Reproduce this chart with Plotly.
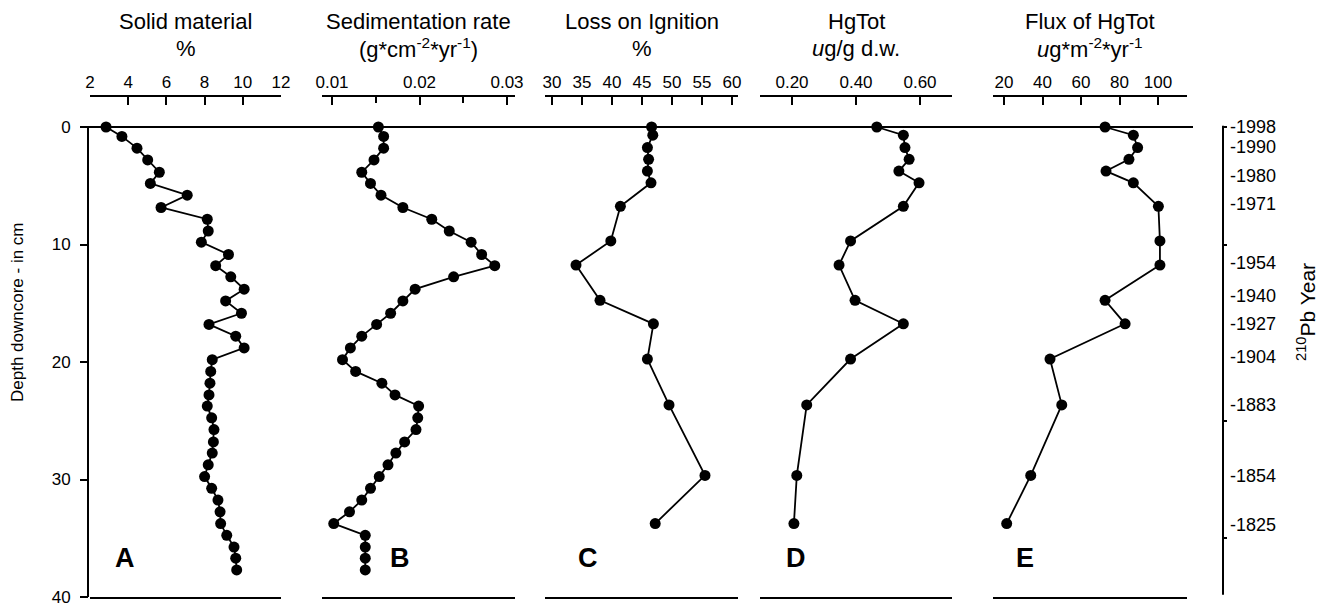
import plotly.graph_objects as go

# ---------------- data ----------------
depth_ab = [0.0, 0.8, 1.8, 2.8, 3.85, 4.8, 5.8, 6.85, 7.85, 8.85, 9.8, 10.85, 11.8, 12.75,
            13.8, 14.8, 15.85, 16.8, 17.8, 18.8, 19.8, 20.8, 21.8, 22.8, 23.75, 24.75, 25.75,
            26.8, 27.75, 28.75, 29.75, 30.75, 31.75, 32.75, 33.75, 34.75, 35.75, 36.7, 37.7]
solid = [2.84, 3.67, 4.46, 5.02, 5.63, 5.16, 7.09, 5.72, 8.14, 8.19, 7.83, 9.25, 8.58, 9.37,
         10.07, 9.1, 9.93, 8.23, 9.63, 10.07, 8.4, 8.32, 8.28, 8.23, 8.14, 8.37, 8.49, 8.46,
         8.4, 8.19, 8.0, 8.37, 8.7, 8.81, 8.84, 9.16, 9.54, 9.63, 9.68]
sed_rate = [0.0153, 0.0159, 0.0159, 0.0148, 0.0134, 0.0144, 0.0156, 0.0181, 0.0214, 0.0234,
            0.0259, 0.0271, 0.0286, 0.0239, 0.0195, 0.0181, 0.0167, 0.0151, 0.0134, 0.0121,
            0.0112, 0.0127, 0.0157, 0.0172, 0.0199, 0.0198, 0.0196, 0.0183, 0.0173, 0.0164,
            0.0154, 0.0144, 0.0134, 0.0120, 0.0102, 0.0138, 0.0138, 0.0138, 0.0138]

depth_cde = [0.0, 0.7, 1.75, 2.75, 3.75, 4.75, 6.75, 9.7, 11.75, 14.75, 16.75, 19.75,
             23.65, 29.65, 33.75]
loi = [46.6, 46.8, 45.9, 46.1, 45.9, 46.5, 41.4, 39.8, 34.0, 38.0, 46.9, 45.9, 49.5, 55.5, 47.2]
hgtot = [0.465, 0.548, 0.553, 0.566, 0.534, 0.597, 0.548, 0.383, 0.347, 0.397, 0.548, 0.383,
         0.246, 0.215, 0.206]
flux = [72.5, 87.2, 89.4, 84.9, 73.0, 87.2, 100.2, 101.0, 101.0, 72.5, 82.9, 43.9, 50.0, 33.9, 21.4]

year_labels = ["1998", "1990", "1980", "1971", "1954", "1940", "1927", "1904", "1883", "1854", "1825"]
year_depths = [0.0, 1.7, 4.17, 6.55, 11.57, 14.38, 16.77, 19.57, 23.66, 29.7, 33.87]
year_minor_ticks = [0, 10, 25, 35]

depth_ticks = [0, 10, 20, 30, 40]

panel_titles = [("Solid material", "%"),
                ("Sedimentation rate", "(g*cm<sup>-2</sup>*yr<sup>-1</sup>)"),
                ("Loss on Ignition", "%"),
                ("HgTot", "<i>u</i>g/g d.w."),
                ("Flux of HgTot", "<i>u</i>g*m<sup>-2</sup>*yr<sup>-1</sup>")]
panel_letters = ["A", "B", "C", "D", "E"]

# ---------------- layout helpers ----------------
# page has an 8px body margin: figure starts at page (8, 8)
OFF = 8
W, H = 1325 - OFF, 605 - OFF
FONT = "Liberation Sans, Arial, sans-serif"


def fx(px):
    return (px - OFF) / W


def fy(py):
    return 1 - (py - OFF) / H


# page-pixel extents of each panel's x axis
panel_px = [(90, 281), (322, 515), (545, 738), (760, 952), (993, 1187)]
panel_range = [[2, 12], [0.008857, 0.030914], [28.833, 61.0], [0.1, 0.7], [14.29, 115.06]]
letter_px = [125, 400, 588, 796, 1025]

fig = go.Figure()

series = [(solid, depth_ab), (sed_rate, depth_ab), (loi, depth_cde), (hgtot, depth_cde), (flux, depth_cde)]
for i, (xv, yv) in enumerate(series):
    xa = "x" if i == 0 else f"x{i+1}"
    fig.add_trace(go.Scatter(x=xv, y=yv, mode="lines+markers", xaxis=xa, yaxis="y",
                             line=dict(color="black", width=1.8),
                             marker=dict(color="black", size=11),
                             cliponaxis=False, showlegend=False, hoverinfo="x+y"))

# invisible carriers so the right-hand year axes get drawn
fig.add_trace(go.Scatter(x=[flux[0]] * len(year_depths), y=year_depths, xaxis="x5", yaxis="y2",
                         mode="markers", marker=dict(opacity=0), showlegend=False,
                         hoverinfo="skip"))
fig.add_trace(go.Scatter(x=[flux[0]] * len(year_minor_ticks), y=year_minor_ticks, xaxis="x5",
                         yaxis="y3", mode="markers", marker=dict(opacity=0), showlegend=False,
                         hoverinfo="skip"))

Y_TOP, Y_BOT = 97, 597
PX_PER_CM = (Y_BOT - 127) / 40.0
y_range = [40, -(127 - Y_TOP) / PX_PER_CM]
ydom = [fy(Y_BOT), fy(Y_TOP)]

layout = dict(
    width=W, height=H, margin=dict(l=0, r=0, t=0, b=0, autoexpand=False),
    paper_bgcolor="white", plot_bgcolor="white", showlegend=False,
    font=dict(family=FONT, color="black", size=17),
    yaxis=dict(domain=ydom, range=y_range, anchor="free", position=fx(88), automargin=False,
               tickvals=depth_ticks, ticks="outside", ticklen=8, tickwidth=2, tickcolor="black",
               ticklabelstandoff=6, ticklabeloverflow="allow",
               showline=False, showgrid=False, zeroline=False, tickfont=dict(size=17)),
    yaxis2=dict(domain=ydom, range=y_range, overlaying="y", side="right", automargin=False,
                anchor="free", position=fx(1223), tickvals=year_depths,
                ticktext=["-" + t for t in year_labels], ticks="", showline=False,
                ticklabelstandoff=6, ticklabeloverflow="allow",
                showgrid=False, zeroline=False, tickfont=dict(size=18)),
    yaxis3=dict(domain=ydom, range=y_range, overlaying="y", side="right", automargin=False,
                anchor="free", position=fx(1223), tickvals=year_minor_ticks, ticks="outside",
                ticklen=3, tickwidth=2, tickcolor="black", showticklabels=False,
                showline=False, showgrid=False, zeroline=False),
)

tick_cfg = [
    dict(tickvals=[2, 4, 6, 8, 10, 12]),
    dict(tickvals=[0.01, 0.02, 0.03], ticktext=["0.01", "0.02", "0.03"],
         minor=dict(tickvals=[0.015, 0.025], ticks="inside", ticklen=6, tickwidth=2, tickcolor="black")),
    dict(tickvals=[30, 35, 40, 45, 50, 55, 60]),
    dict(tickvals=[0.2, 0.4, 0.6], ticktext=["0.20", "0.40", "0.60"]),
    dict(tickvals=[20, 40, 60, 80, 100]),
]
for i in range(5):
    key = "xaxis" if i == 0 else f"xaxis{i+1}"
    ax = dict(domain=[fx(panel_px[i][0]), fx(panel_px[i][1])], range=panel_range[i],
              anchor="y", side="top", showline=True, linewidth=2, linecolor="black",
              mirror=True, ticks="inside", ticklen=8, tickwidth=2, tickcolor="black",
              automargin=False,
              showgrid=False, zeroline=False, tickfont=dict(size=17))
    ax.update(tick_cfg[i])
    layout[key] = ax

annotations = []
for i, (t1, t2) in enumerate(panel_titles):
    cx = fx((panel_px[i][0] + panel_px[i][1]) / 2)
    annotations.append(dict(text=t1, x=cx, y=fy(22), xref="paper", yref="paper",
                            showarrow=False, xanchor="center", yanchor="middle",
                            borderpad=0, font=dict(size=22)))
    annotations.append(dict(text=t2, x=cx, y=fy(48), xref="paper", yref="paper",
                            showarrow=False, xanchor="center", yanchor="middle",
                            borderpad=0, font=dict(size=22)))
    annotations.append(dict(text="<b>%s</b>" % panel_letters[i], x=fx(letter_px[i]), y=fy(558),
                            xref="paper", yref="paper", showarrow=False,
                            xanchor="center", yanchor="middle", font=dict(size=27)))

annotations.append(dict(text="Depth downcore - in cm", x=fx(17), y=fy(312), xref="paper",
                        yref="paper", showarrow=False, textangle=-90, xanchor="center",
                        yanchor="middle", font=dict(size=17)))
annotations.append(dict(text="<sup>210</sup>Pb Year", x=fx(1306), y=fy(312), xref="paper",
                        yref="paper", showarrow=False, textangle=-90, xanchor="center",
                        yanchor="middle", font=dict(size=21)))
layout["annotations"] = annotations

shapes = [
    # left depth axis line
    dict(type="line", xref="paper", yref="y", x0=fx(88), x1=fx(88), y0=0, y1=40,
         line=dict(color="black", width=2)),
    # right year axis line
    dict(type="line", xref="paper", yref="y", x0=fx(1223), x1=fx(1223), y0=-0.1, y1=39.8,
         line=dict(color="black", width=2)),
    # surface line at depth 0
    dict(type="line", xref="paper", yref="y", x0=fx(88), x1=fx(1193), y0=0, y1=0,
         line=dict(color="black", width=2)),
]
layout["shapes"] = shapes

fig.update_layout(**layout)
fig.write_html("out.html")
